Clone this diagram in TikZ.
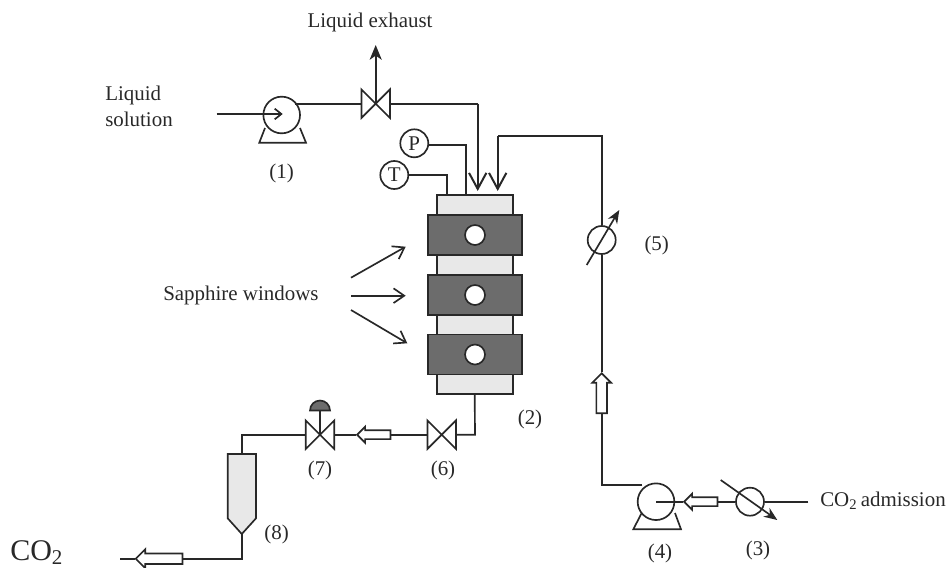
\documentclass[tikz,border=0pt]{standalone}
\usepackage{fontspec}
\setmainfont{Liberation Serif}
\definecolor{ink}{RGB}{40, 40, 40}
\definecolor{jacket}{RGB}{108, 108, 108}
\definecolor{shell}{RGB}{232, 232, 232}
\usetikzlibrary{arrows.meta, shapes.arrows}
\tikzset{
    pipe/.style={draw=ink, line width=1.25pt},
    lbl/.style={text=ink, font=\fontsize{15.7}{18}\selectfont, inner sep=0pt},
    pumpbody/.style={circle, draw=ink, line width=1.25pt, fill=white, inner sep=0pt, minimum size=27.5pt},
    gauge/.style={circle, draw=ink, line width=1.25pt, fill=white, inner sep=0pt, minimum size=21pt, lbl},
    valvebox/.style={rectangle, inner sep=0pt, minimum size=21pt},
    flowarrow/.style={single arrow, draw=ink, line width=1.25pt, fill=white, inner sep=2.7pt,
        minimum width=12pt, single arrow head extend=2.7pt, minimum height=25pt, single arrow tip angle=90},
    barb/.style={-{Straight Barb[length=8pt, width=11pt, line width=1.25pt]}},
    bigbarb/.style={-{Straight Barb[length=12pt, width=13pt, line width=1.5pt]}},
    smallbarb/.style={-{Straight Barb[length=5pt, width=8pt, line width=1.25pt]}},
    tiparrow/.style={-{Stealth[length=10pt, width=8pt]}},
    jacketbox/.style={pipe, fill=jacket},
    porthole/.style={circle, draw=ink, line width=1.25pt, fill=white, inner sep=0pt, minimum size=15pt}
}
\begin{document}
\begin{tikzpicture}[x=0.75pt, y=-0.75pt]
    \useasboundingbox (0,0) rectangle (947,568);
    % column
    \node[pipe, fill=shell, minimum width=57pt, minimum height=149pt, inner sep=0pt] (column) at (474.7,294.5) {};
    \foreach \n/\y in {jacketA/235, jacketB/295, jacketC/354.5} {
        \node[jacketbox, minimum width=70.5pt, minimum height=30pt, inner sep=0pt] (\n) at (475,\y) {};
        \node[porthole] at (\n) {};
    }
    % pumps
    \node[pumpbody] (pumpA) at (281.7,115) {};
    \draw[pipe] (265,128) -- (259.3,142.7) -- (306,142.7) -- (300,128);
    \node[pumpbody] (pumpB) at (656,501.7) {};
    \draw[pipe] (641.7,513) -- (633.3,529.3) -- (681,529.3) -- (675,513);
    % valves
    \node[valvebox] (valveA) at (375.7,103.7) {};
    \node[valvebox] (valveB) at (441.7,434.7) {};
    \node[valvebox] (valveC) at (320,434.7) {};
    \foreach \v in {valveA, valveB, valveC}
        \draw[pipe] (\v.north west) -- (\v.south east) -- (\v.north east) -- (\v.south west) -- cycle;
    % gauges
    \node[gauge] (gaugeP) at (414.3,143.3) {P};
    \node[gauge] (gaugeT) at (394.3,175) {T};
    % exchangers
    \node[circle, draw=ink, line width=1.25pt, inner sep=0pt, minimum size=21pt] (heaterA) at (601.7,240) {};
    \node[circle, draw=ink, line width=1.25pt, inner sep=0pt, minimum size=21pt] (heaterB) at (750,501.7) {};
    \coordinate (heatA1) at (586.7,265);
    \coordinate (heatA2) at (619.3,210);
    \coordinate (heatB1) at (720.7,480);
    \coordinate (heatB2) at (777.3,520);
    \draw[pipe, tiparrow] (heatA1) -- (heatA2);
    \draw[pipe, tiparrow] (heatB1) -- (heatB2);
    % hollow arrows
    \node[flowarrow, shape border rotate=90, minimum height=30pt, minimum width=14pt, inner sep=3.4pt, single arrow head extend=3pt] (flowUp) at (601.7,396) {};
    \node[flowarrow, shape border rotate=180] (flowB) at (703,501.7) {};
    \node[flowarrow, shape border rotate=180] (flowC) at (376,434.7) {};
    \node[flowarrow, shape border rotate=180, minimum height=35pt, minimum width=14pt, inner sep=3.3pt, single arrow head extend=3.2pt] (flowD) at (161.7,558.7) {};
    % vessel
    \coordinate (vesselTop) at (241.8,454);
    \coordinate (vesselTip) at (241.8,534);
    \draw[pipe, fill=shell] (227.7,454) -- (227.7,518.3) -- (vesselTip) -- (256,518.3) -- (256,454) -- cycle;
    % pressure regulator dome
    \coordinate (domeBase) at (320,410.5);
    \draw[pipe, fill=jacket] (310,410.5) arc[start angle=180, end angle=360, radius=10] -- cycle;
    \draw[pipe] (domeBase) -- (valveC.center);
    % feed line
    \coordinate (feedStart) at (216.7,114);
    \coordinate (pumpMark) at (282.7,114);
    \coordinate (exhaustEnd) at (375.7,45);
    \coordinate (feedDrop) at (477.7,103.7);
    \coordinate (feedEnd) at (477.7,191);
    \draw[pipe, smallbarb] (feedStart) -- (pumpMark);
    \draw[pipe] (pumpA.north east |- valveA.west) -- (valveA.west);
    \draw[pipe, -{Stealth[length=11pt, width=9pt, inset=3pt]}] (valveA.center) -- (exhaustEnd);
    \draw[pipe] (valveA.east) -- (feedDrop);
    \draw[pipe, bigbarb] (feedDrop) -- (feedEnd);
    % gauge lines
    \draw[pipe] (gaugeP.east |- 0,145) -- (465.7,145) -- (465.7,195);
    \draw[pipe] (gaugeT.east) -- (446.7,175) -- (446.7,195);
    % co2 line
    \coordinate (co2In) at (808.3,501.7);
    \coordinate (co2Bend) at (601.7,485);
    \coordinate (co2Top) at (601.7,135.7);
    \coordinate (co2Turn) at (497.7,135.7);
    \coordinate (co2End) at (497.7,191);
    \draw[pipe] (co2In) -- (heaterB);
    \draw[pipe] (heaterB) -- (flowB.tail);
    \draw[pipe] (flowB.tip) -- (pumpB.center);
    \draw[pipe] (pumpB.north west |- co2Bend) -- (co2Bend) -- (flowUp.tail);
    \draw[pipe] (flowUp.tip) -- (heaterA);
    \draw[pipe] (heaterA) -- (co2Top) -- (co2Turn);
    \draw[pipe, bigbarb] (co2Turn) -- (co2End);
    % outlet line
    \coordinate (outBend) at (475,434.7);
    \coordinate (sepBend) at (241.8,434.7);
    \coordinate (sepFoot) at (241.8,558.7);
    \coordinate (outEnd) at (120,558.7);
    \draw[pipe] (column.south) -- (outBend) -- (valveB.east);
    \draw[pipe] (valveB.west) -- (flowC.tail);
    \draw[pipe] (flowC.tip) -- (valveC.east);
    \draw[pipe] (valveC.west) -- (sepBend) -- (vesselTop);
    \draw[pipe] (vesselTip) -- (sepFoot) -- (flowD.tail);
    \draw[pipe] (flowD.tip) -- (outEnd);
    % window arrows
    \coordinate (winStartA) at (351,277.7);
    \coordinate (winStartB) at (351,295.7);
    \coordinate (winStartC) at (351,310);
    \coordinate (winEndA) at (405.7,246.7);
    \coordinate (winEndB) at (405.7,295.7);
    \coordinate (winEndC) at (407.3,343.3);
    \foreach \a/\b in {winStartA/winEndA, winStartB/winEndB, winStartC/winEndC}
        \draw[pipe, barb] (\a) -- (\b);
    % labels
    \node[lbl] (labelExhaust) at (370,22) {Liquid exhaust};
    \node[lbl, align=left, anchor=west] (labelSolution) at (105,106.5) {Liquid\\[2pt]solution};
    \node[lbl, anchor=west] (labelWindows) at (163,295) {Sapphire windows};
    \node[lbl, anchor=west] (labelAdmission) at (820,501) {CO\textsubscript{2}\,admission};
    \node[lbl, anchor=base west, font=\fontsize{22.5}{24}\selectfont] (labelOut) at (10,560) {CO\textsubscript{2}};
    \node[lbl] (num1) at (281.7,173) {(1)};
    \node[lbl] (num2) at (530,419) {(2)};
    \node[lbl] (num3) at (758,550) {(3)};
    \node[lbl] (num4) at (660,553) {(4)};
    \node[lbl] (num5) at (656.7,245) {(5)};
    \node[lbl] (num6) at (443,470) {(6)};
    \node[lbl] (num7) at (320,470) {(7)};
    \node[lbl] (num8) at (276.7,534) {(8)};
\end{tikzpicture}
\end{document}
